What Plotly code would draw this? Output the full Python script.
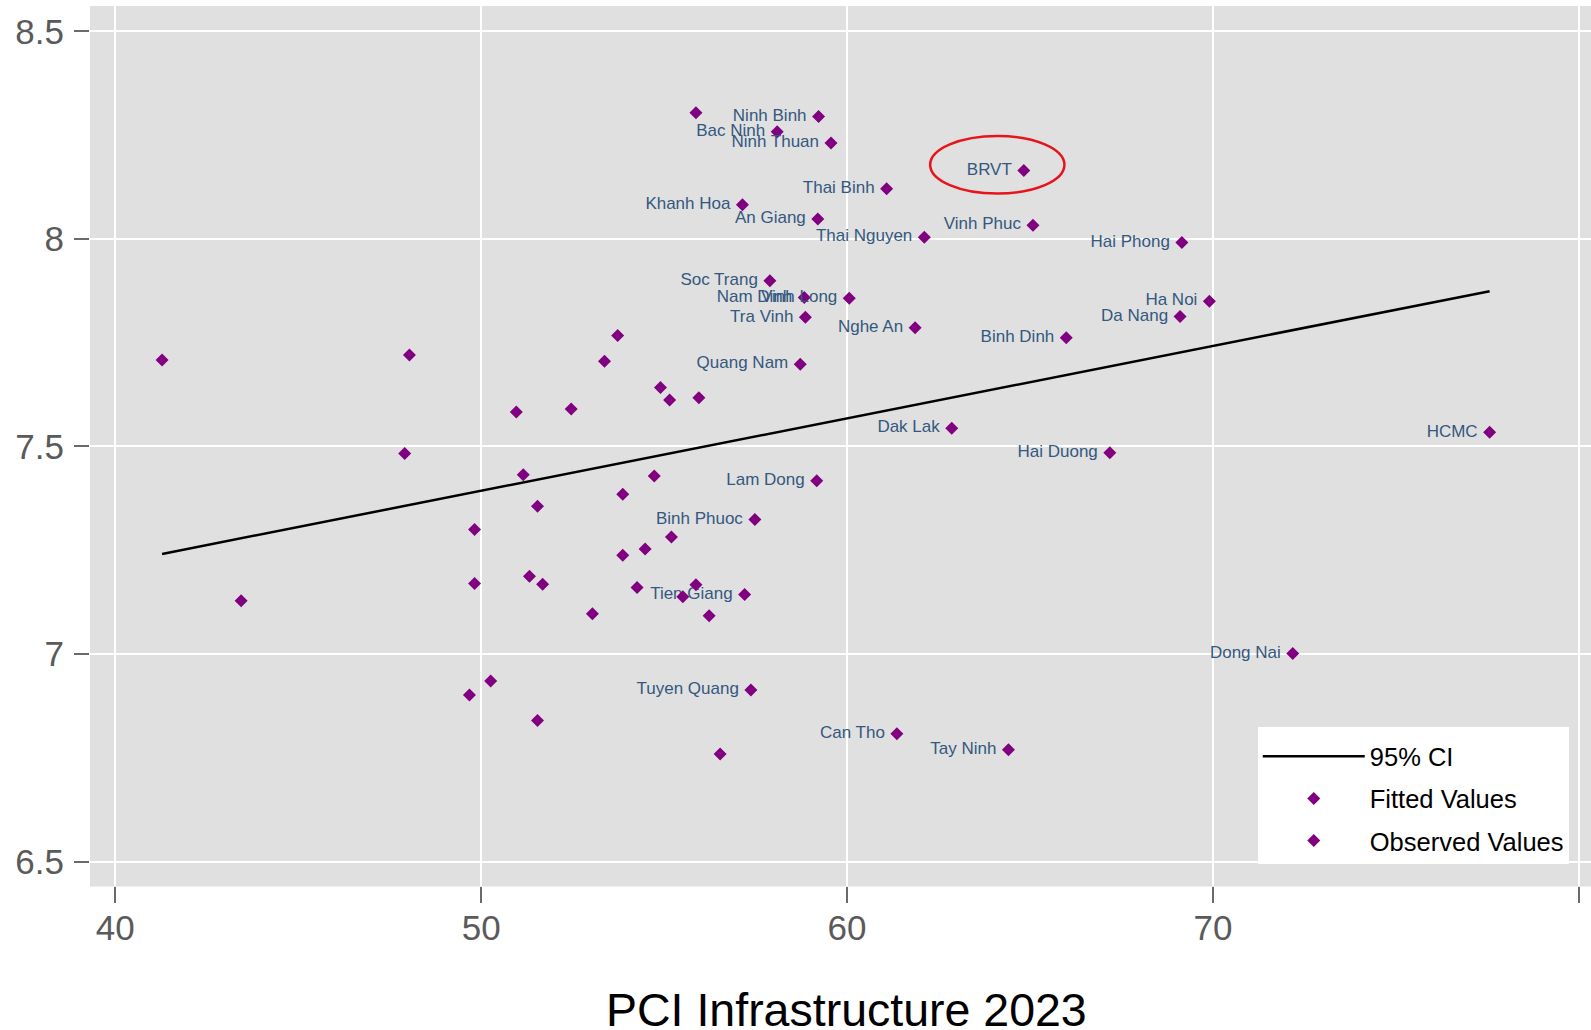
import plotly.graph_objects as go

# Labelled provinces
labeled_names = ["Ninh Binh", "Bac Ninh", "Ninh Thuan", "BRVT", "Thai Binh", "Khanh Hoa",
                 "An Giang", "Vinh Phuc", "Thai Nguyen", "Hai Phong", "Soc Trang", "Nam Dinh",
                 "Vinh Long", "Ha Noi", "Tra Vinh", "Da Nang", "Nghe An", "Binh Dinh",
                 "Quang Nam", "Dak Lak", "HCMC", "Hai Duong", "Lam Dong", "Binh Phuoc",
                 "Tien Giang", "Dong Nai", "Tuyen Quang", "Can Tho", "Tay Ninh"]
labeled_x = [59.22, 58.09, 59.56, 64.83, 61.08, 57.14,
             59.20, 65.08, 62.11, 69.15, 57.89, 58.83,
             60.06, 69.90, 58.86, 69.10, 61.86, 65.99,
             58.72, 62.86, 77.56, 67.18, 59.17, 57.48,
             57.20, 72.18, 57.37, 61.36, 64.41]
labeled_y = [8.295, 8.258, 8.231, 8.165, 8.121, 8.082,
             8.048, 8.033, 8.004, 7.991, 7.899, 7.859,
             7.857, 7.850, 7.811, 7.813, 7.786, 7.762,
             7.698, 7.544, 7.534, 7.485, 7.417, 7.324,
             7.143, 7.001, 6.913, 6.808, 6.769]

# Unlabelled provinces
other_x = [55.87, 41.28, 48.04, 53.73, 53.37, 54.90, 55.15, 55.95, 50.96, 52.46,
           47.91, 51.15, 54.73, 53.87, 51.54, 49.82, 55.20, 54.48, 53.87, 49.82,
           51.32, 51.68, 54.26, 55.87, 55.51, 43.44, 53.04, 56.23, 50.26, 49.68,
           51.54, 56.53]
other_y = [8.304, 7.708, 7.720, 7.767, 7.705, 7.642, 7.612, 7.617, 7.583, 7.590,
           7.483, 7.432, 7.429, 7.385, 7.356, 7.300, 7.282, 7.253, 7.238, 7.170,
           7.187, 7.168, 7.160, 7.167, 7.138, 7.128, 7.097, 7.092, 6.935, 6.901,
           6.840, 6.759]

# Fitted line
fit_x = [41.28, 77.56]
fit_y = [7.241, 7.874]

x_ticks = [40, 50, 60, 70, 80]
y_ticks = [6.5, 7, 7.5, 8, 8.5]
y_ticktext = ["6.5", "7", "7.5", "8", "8.5"]

FONT = "Liberation Sans, Arial, sans-serif"
PURPLE = "#800080"
LABEL_COLOR = "#34587F"

fig = go.Figure()
fig.add_trace(go.Scatter(
    x=fit_x, y=fit_y, mode="lines", name="95% CI",
    line=dict(color="black", width=2.5), legendgroup="a"))
fig.add_trace(go.Scatter(
    x=labeled_x, y=labeled_y, mode="markers+text", name="Fitted Values",
    text=[n + "\u00a0" for n in labeled_names], textposition="middle left",
    textfont=dict(family=FONT, size=17, color=LABEL_COLOR),
    marker=dict(symbol="diamond", size=10, color=PURPLE), legendgroup="b"))
fig.add_trace(go.Scatter(
    x=other_x, y=other_y, mode="markers", name="Observed Values",
    marker=dict(symbol="diamond", size=10, color=PURPLE), legendgroup="c"))

fig.add_shape(type="circle", xref="x", yref="y",
              x0=62.27, x1=65.94, y0=8.109, y1=8.248,
              line=dict(color="#E8141C", width=2.5))

fig.add_annotation(text="PCI Infrastructure 2023", xref="paper", yref="paper",
                   x=0.5043, y=-0.141, xanchor="center", yanchor="middle",
                   showarrow=False, font=dict(family=FONT, size=46.5, color="black"))

fig.update_layout(
    width=1591, height=1030,
    margin=dict(l=90, r=0, t=6, b=144, autoexpand=False),
    paper_bgcolor="white", plot_bgcolor="#E0E0E0",
    font=dict(family=FONT),
    showlegend=True,
    legend=dict(x=0.778, y=0.181, xanchor="left", yanchor="top",
                bgcolor="white", borderwidth=0,
                title=dict(text=" ", font=dict(size=5)),
                font=dict(family=FONT, size=25.5, color="black"),
                itemwidth=102, tracegroupgap=6, traceorder="grouped"),
)
fig.update_xaxes(range=[39.31, 80.33], tickvals=x_ticks,
                 showgrid=True, gridcolor="white", gridwidth=2,
                 zeroline=False, ticks="outside", ticklen=16, tickwidth=2,
                 tickcolor="#6a6a6a", ticklabelstandoff=-5,
                 tickfont=dict(family=FONT, size=35, color="#5a5a5a"),
                 showline=True, linecolor="#f0f0f0", linewidth=1)
fig.update_yaxes(range=[6.441, 8.561], tickvals=y_ticks, ticktext=y_ticktext,
                 showgrid=True, gridcolor="white", gridwidth=2,
                 zeroline=False, ticks="outside", ticklen=15, tickwidth=2,
                 tickcolor="#6a6a6a", ticklabelstandoff=3,
                 tickfont=dict(family=FONT, size=35, color="#5a5a5a"))

fig.write_html("out.html",
               config={"displayModeBar": False},
               post_script="document.body.style.margin='0';"
                           "document.documentElement.style.overflow='hidden';")
